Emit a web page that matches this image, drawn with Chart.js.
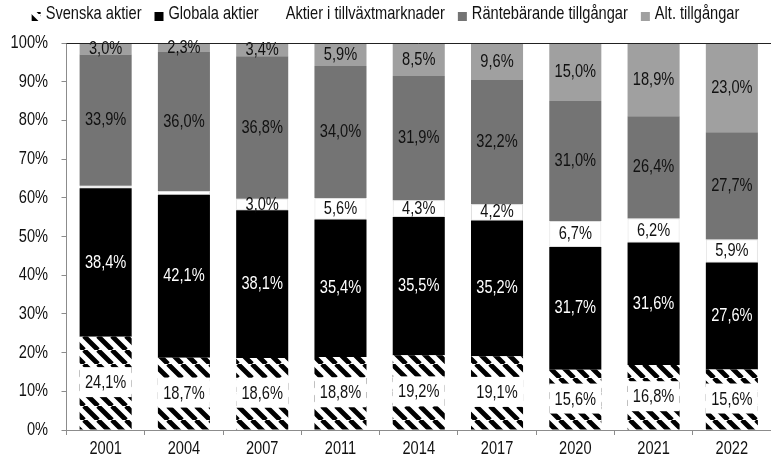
<!DOCTYPE html>
<html>
<head>
<meta charset="utf-8">
<script src="https://cdn.jsdelivr.net/npm/chart.js@4.4.0/dist/chart.umd.min.js"></script>
<style>
  html, body { margin: 0; padding: 0; background: #fff; }
</style>
</head>
<body>
<canvas id="allocChart"></canvas>
<script>
// data (percent)
const years = ['2001', '2004', '2007', '2011', '2014', '2017', '2020', '2021', '2022'];
const svenska  = [24.1, 18.7, 18.6, 18.8, 19.2, 19.1, 15.6, 16.8, 15.6];
const globala  = [38.4, 42.1, 38.1, 35.4, 35.5, 35.2, 31.7, 31.6, 27.6];
const tillvaxt = [0.6, 0.9, 3.0, 5.6, 4.3, 4.2, 6.7, 6.2, 5.9];
const ranta    = [33.9, 36.0, 36.8, 34.0, 31.9, 32.2, 31.0, 26.4, 27.7];
const alt      = [3.0, 2.3, 3.4, 5.9, 8.5, 9.6, 15.0, 18.9, 23.0];
const seriesNames = ['Svenska aktier', 'Globala aktier', 'Aktier i tillväxtmarknader', 'Räntebärande tillgångar', 'Alt. tillgångar'];
const yTicks = [0, 10, 20, 30, 40, 50, 60, 70, 80, 90, 100];

// no narrow font installed, so Liberation Sans squeezed sideways (Arial Narrow look)
const FONT = '"Liberation Sans", Arial, sans-serif';
const FSIZE = 18.5;
const SQUEEZE = 0.79;

const raw = [svenska, globala, tillvaxt, ranta, alt];
// 100% stacked: scale each year to its total
const totals = years.map((_, i) => raw.reduce((s, arr) => s + arr[i], 0));
const norm = arr => arr.map((v, i) => v * 100 / totals[i]);

const canvas = document.getElementById('allocChart');
canvas.width = 771;
canvas.height = 465;
canvas.style.width = '771px';
canvas.style.height = '465px';

// diagonal black/white stripes
function makeHatch() {
    const s = 14;
    const c = document.createElement('canvas');
    c.width = s; c.height = s;
    const x = c.getContext('2d');
    x.fillStyle = '#fff';
    x.fillRect(0, 0, s, s);
    x.strokeStyle = '#000';
    x.lineWidth = 4.8;
    x.beginPath();
    [-s, 0, s].forEach(o => { x.moveTo(o, 0); x.lineTo(o + s, s); });
    x.stroke();
    return canvas.getContext('2d').createPattern(c, 'repeat');
}
const hatch = makeHatch();
const colors = [hatch, '#000000', '#ffffff', '#747474', '#a0a0a0'];

const fmt = v => v.toFixed(1).replace('.', ',') + '%';

function narrowWidth(ctx, txt) {
    return ctx.measureText(txt).width * SQUEEZE;
}
// draws text squeezed horizontally, align: 'left' | 'center' | 'right'
function narrowText(ctx, txt, x, y, align) {
    const w = narrowWidth(ctx, txt);
    let x0 = x;
    if (align === 'center') x0 = x - w / 2;
    if (align === 'right') x0 = x - w;
    ctx.save();
    ctx.textAlign = 'left';
    ctx.translate(x0, y);
    ctx.scale(SQUEEZE, 1);
    ctx.fillText(txt, 0, 0);
    ctx.restore();
}

// value labels, Excel style (white box on the hatched series)
const labelPlugin = {
    id: 'segLabels',
    afterDatasetsDraw(chart) {
        const ctx = chart.ctx;
        ctx.save();
        ctx.font = FSIZE + 'px ' + FONT;
        ctx.textBaseline = 'middle';
        raw.forEach((arr, di) => {
            const meta = chart.getDatasetMeta(di);
            meta.data.forEach((bar, j) => {
                const v = arr[j];
                if (v < 1) return;
                const y = (bar.y + bar.base) / 2;
                if (di === 0) {
                    ctx.fillStyle = '#fff';
                    ctx.fillRect(bar.x - bar.width / 2, y - 16, bar.width, 30);
                }
                ctx.fillStyle = di === 1 ? '#fff' : '#111';
                narrowText(ctx, fmt(v), bar.x, y, 'center');
            });
        });
        ctx.restore();
    }
};

// top frame line, axis labels and legend drawn by hand
const framePlugin = {
    id: 'frame',
    afterDraw(chart) {
        const ctx = chart.ctx;
        const a = chart.chartArea;
        ctx.save();
        ctx.strokeStyle = '#222';
        ctx.lineWidth = 1;
        ctx.beginPath();
        ctx.moveTo(a.left, Math.round(a.top) + 0.5);
        ctx.lineTo(a.right, Math.round(a.top) + 0.5);
        ctx.stroke();

        ctx.font = FSIZE + 'px ' + FONT;
        ctx.textBaseline = 'middle';
        ctx.fillStyle = '#111';

        // y tick labels
        const ys = chart.scales.y;
        yTicks.forEach(v => {
            narrowText(ctx, v + '%', 48, ys.getPixelForValue(v), 'right');
        });
        // x tick labels
        const xs = chart.scales.x;
        years.forEach((yr, i) => {
            narrowText(ctx, yr, xs.getPixelForValue(i), 449, 'center');
        });

        // legend
        const box = 9, gap = 5, spacing = 13;
        const widths = seriesNames.map(n => box + gap + narrowWidth(ctx, n));
        const total = widths.reduce((s, w) => s + w, 0) + spacing * (widths.length - 1);
        let x = (chart.width - total) / 2;
        const yMid = 14;
        seriesNames.forEach((name, i) => {
            ctx.fillStyle = colors[i];
            ctx.fillRect(x, yMid - 2, box, box);
            ctx.fillStyle = '#111';
            narrowText(ctx, name, x + box + gap, yMid, 'left');
            x += widths[i] + spacing;
        });
        ctx.restore();
    }
};

const datasets = raw.map((arr, i) => ({
    label: seriesNames[i],
    data: norm(arr),
    backgroundColor: colors[i],
    borderColor: i === 2 ? '#e0e0e0' : 'rgba(0,0,0,0)',
    borderWidth: i === 2 ? 1 : 0,
    borderSkipped: false,
    categoryPercentage: 1,
    barPercentage: 0.665
}));

const allocChart = new Chart(canvas, {
    type: 'bar',
    data: { labels: years, datasets: datasets },
    options: {
        responsive: false,
        maintainAspectRatio: false,
        animation: false,
        layout: { padding: { top: 43, right: 0, left: 0, bottom: 0 } },
        plugins: {
            legend: { display: false },
            tooltip: { enabled: false }
        },
        scales: {
            x: {
                stacked: true,
                grid: { display: true, drawOnChartArea: false, drawTicks: true, tickLength: 5, color: '#8c8c8c' },
                border: { display: true, color: '#8c8c8c', width: 1 },
                ticks: { display: false },
                afterFit(scale) { scale.height = 35; }
            },
            y: {
                stacked: true,
                min: 0,
                max: 100,
                afterBuildTicks(scale) { scale.ticks = yTicks.map(v => ({ value: v })); },
                grid: { display: true, drawOnChartArea: false, drawTicks: true, tickLength: 5, color: '#8c8c8c' },
                border: { display: true, color: '#8c8c8c', width: 1 },
                ticks: { display: false },
                afterFit(scale) { scale.width = 66.5; }
            }
        }
    },
    plugins: [labelPlugin, framePlugin]
});
</script>
</body>
</html>
